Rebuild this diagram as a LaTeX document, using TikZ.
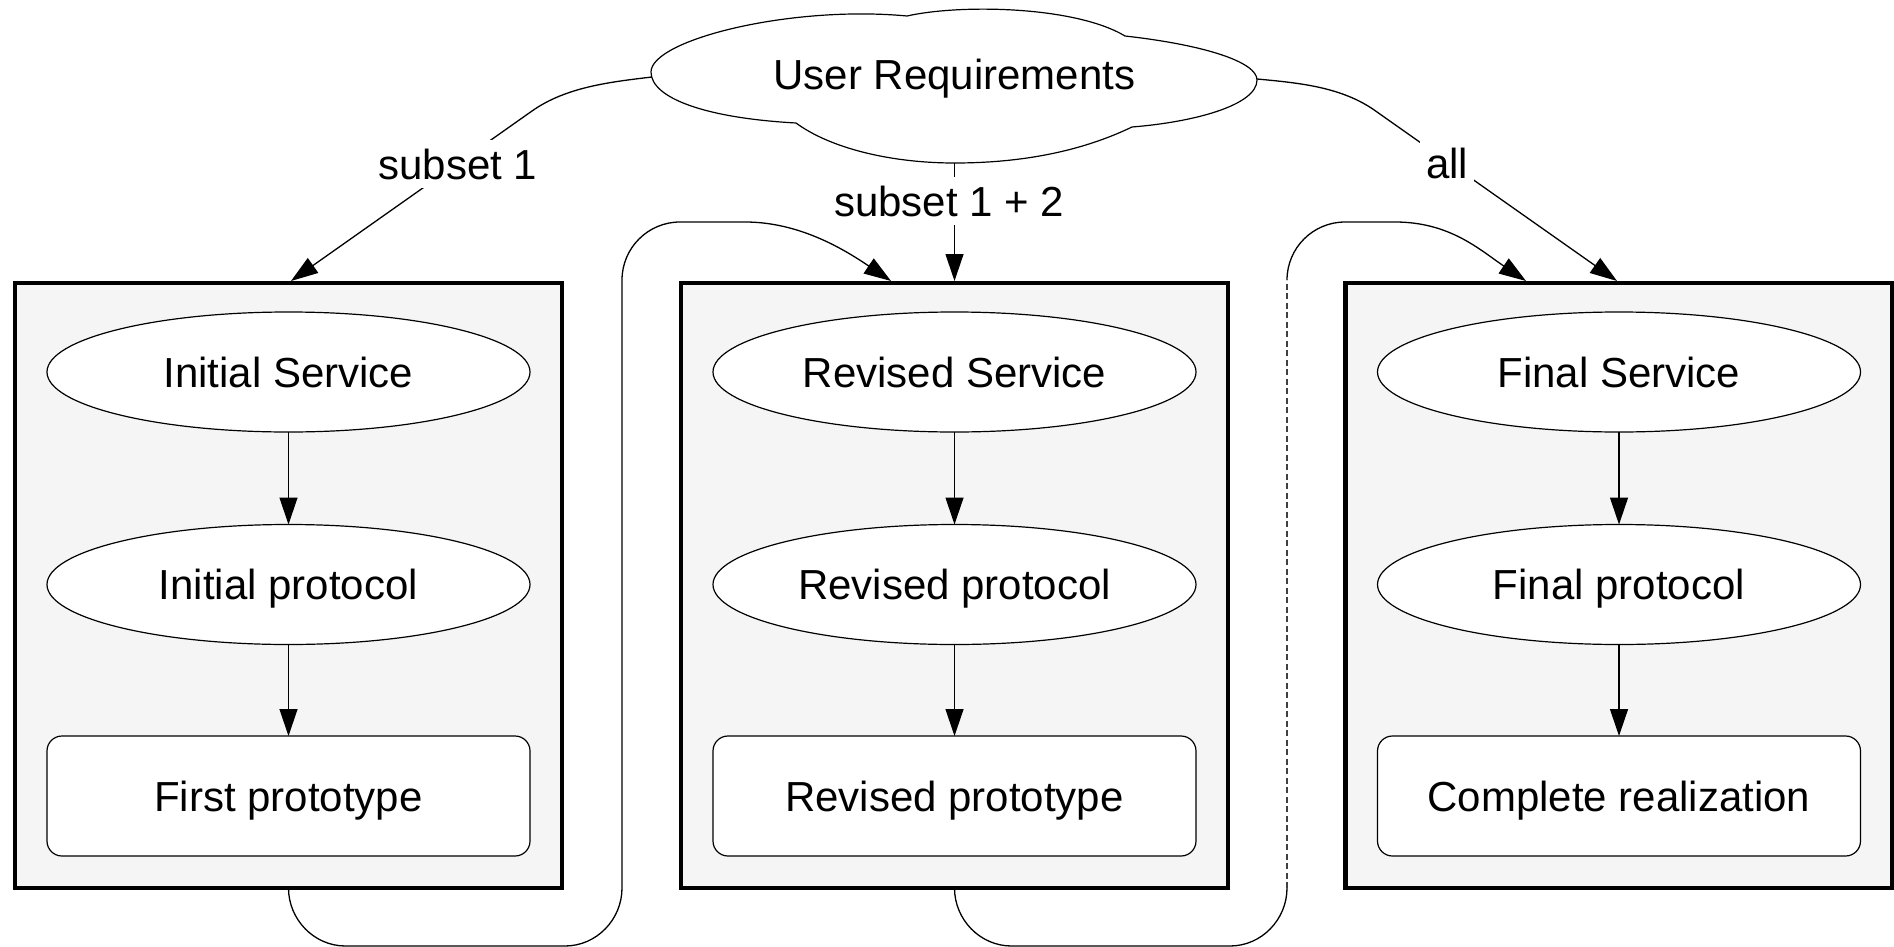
\documentclass[tikz,border=0pt]{standalone}
\usepackage{fontspec}
\setmainfont{Liberation Sans}
\usetikzlibrary{arrows.meta,shapes.geometric}
\definecolor{clusterfill}{RGB}{245,245,245}
\begin{document}
\begin{tikzpicture}[x=0.5pt,y=-0.5pt,
  font=\fontsize{21}{25}\selectfont,
  cluster/.style={draw,line width=2.4pt,fill=clusterfill,minimum width=273.5pt,minimum height=302.5pt,inner sep=0pt,outer sep=0pt},
  oval/.style={ellipse,draw,line width=0.6pt,fill=white,minimum width=241.5pt,minimum height=60pt,inner sep=0pt,outer sep=0pt,text height=15pt,text depth=0pt},
  proto/.style={rectangle,rounded corners=7.5pt,draw,line width=0.6pt,fill=white,minimum width=241.5pt,minimum height=60pt,inner sep=0pt,outer sep=0pt,text height=15pt,text depth=0pt},
  lbl/.style={fill=white,inner xsep=3pt,inner ysep=4.5pt,text height=15pt,text depth=0pt},
  edge/.style={line width=0.65pt,-{Triangle[length=13.5pt,width=9pt]}},
  plainedge/.style={line width=0.65pt},
  dashedge/.style={line width=0.65pt,black!75,dash pattern=on 3pt off 1.75pt}
]
\useasboundingbox (0,0) rectangle (1894,947);

% clusters
\node[cluster] (b1) at (288.5,585.5) {};
\node[cluster] (b2) at (954.5,585.5) {};
\node[cluster] (b3) at (1619,585.5) {};

% inner nodes
\node[oval] (s1) at (288.5,372) {Initial Service};
\node[oval] (p1) at (288.5,584.5) {Initial protocol};
\node[proto] (r1) at (288.5,796) {First prototype};

\node[oval] (s2) at (954.5,372) {Revised Service};
\node[oval] (p2) at (954.5,584.5) {Revised protocol};
\node[proto] (r2) at (954.5,796) {Revised prototype};

\node[oval] (s3) at (1619,372) {Final Service};
\node[oval] (p3) at (1619,584.5) {Final protocol};
\node[proto] (r3) at (1619,796) {Complete realization};

\draw[edge] (s1.south) -- (p1.north);
\draw[edge] (p1.south) -- (r1.north);
\draw[edge] (s2.south) -- (p2.north);
\draw[edge] (p2.south) -- (r2.north);
\draw[edge] (s3.south) -- (p3.north);
\draw[edge] (p3.south) -- (r3.north);

% cloud
\draw[line width=0.6pt,fill=white]
  (796,123) .. controls (705,118) and (651,98) .. (651,72)
  .. controls (651,40) and (790,5) .. (907,16)
  .. controls (960,4) and (1075,6) .. (1125,36)
  .. controls (1205,45) and (1257,62) .. (1257,80)
  .. controls (1257,105) and (1195,122) .. (1132,127)
  .. controls (1080,152) and (1020,163) .. (954.5,163)
  .. controls (890,163) and (830,148) .. (796,123) -- cycle;
\node[inner sep=0pt,text height=15pt,text depth=0pt] (req) at (954.5,75) {User Requirements};
\coordinate (reqW) at (652,77);
\coordinate (reqE) at (1257,79);
\coordinate (reqS) at (954.5,163);

% requirement edges
\draw[edge] (reqW) .. controls (610,82) and (566,87) .. (532,111) -- ([shift={(2.5,-2)}]b1.north);
\draw[edge] (reqS) -- ([shift={(0,-2)}]b2.north);
\draw[edge] (reqE) .. controls (1300,83) and (1343,87) .. (1377,112) -- ([shift={(-2,-2)}]b3.north);

% loop 1
\draw[edge] (b1.south) .. controls (288.5,919.5) and (314,946) .. (345.5,946)
  -- (565,946) .. controls (596.5,946) and (622,919.5) .. (622,888)
  -- (622,280) .. controls (622,248) and (648,222) .. (680,222)
  -- (745,222) .. controls (800,222) and (845,250) .. ([shift={(-63.5,-2)}]b2.north);

% loop 2
\coordinate (l2a) at (1287,888);
\coordinate (l2b) at (1287,280);
\draw[plainedge] (b2.south) .. controls (954.5,919.5) and (980,946) .. (1011.5,946)
  -- (1230,946) .. controls (1261.5,946) and (1287,919.5) .. (l2a);
\draw[dashedge] (l2a) -- (l2b);
\draw[edge] (l2b) .. controls (1287,248) and (1313,222) .. (1345,222)
  -- (1395,222) .. controls (1450,222) and (1480,250) .. ([shift={(-93,-2)}]b3.north);

% labels
\node[lbl] (lab1) at (458,164) {subset 1};
\node[lbl] (lab2) at (949,201) {subset 1 + 2};
\node[lbl] (lab3) at (1447,163) {all};
\end{tikzpicture}
\end{document}
